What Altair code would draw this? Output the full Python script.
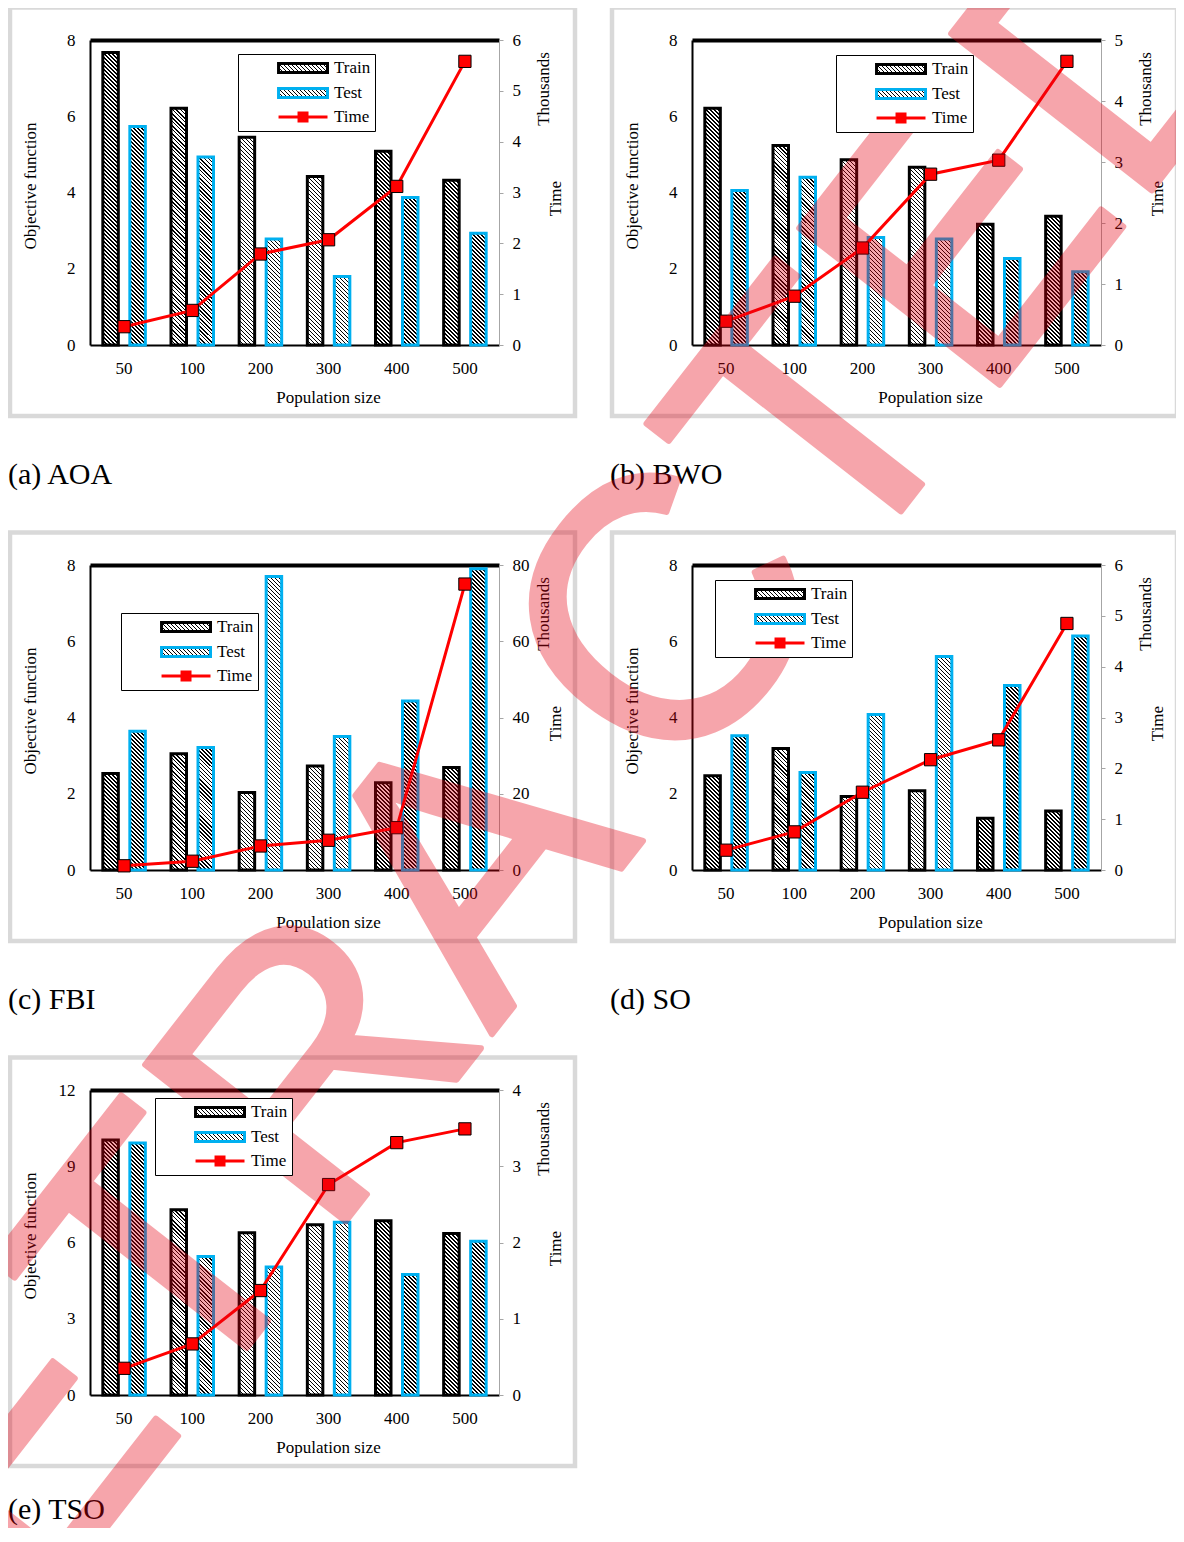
import altair as alt

# ---------------- data ----------------
POP = ["50", "100", "200", "300", "400", "500"]
SERIES = ["Train", "Test", "Time"]

AOA_TRAIN = [7.67, 6.21, 5.45, 4.42, 5.08, 4.32]
AOA_TEST = [5.73, 4.93, 2.78, 1.80, 3.87, 2.93]
AOA_TIME = [0.36, 0.68, 1.79, 2.07, 3.12, 5.58]

BWO_TRAIN = [6.21, 5.23, 4.86, 4.66, 3.17, 3.38]
BWO_TEST = [4.05, 4.40, 2.82, 2.78, 2.27, 1.92]
BWO_TIME = [0.39, 0.80, 1.59, 2.80, 3.03, 4.65]

FBI_TRAIN = [2.53, 3.05, 2.03, 2.73, 2.29, 2.69]
FBI_TEST = [3.64, 3.21, 7.70, 3.50, 4.43, 7.90]
FBI_TIME = [1.1, 2.3, 6.3, 7.8, 11.1, 75.0]

SO_TRAIN = [2.47, 3.19, 1.93, 2.08, 1.36, 1.55]
SO_TEST = [3.52, 2.56, 4.08, 5.60, 4.84, 6.14]
SO_TIME = [0.39, 0.75, 1.53, 2.17, 2.56, 4.85]

TSO_TRAIN = [10.03, 7.29, 6.38, 6.70, 6.86, 6.35]
TSO_TEST = [9.91, 5.45, 5.04, 6.80, 4.74, 6.05]
TSO_TIME = [0.35, 0.67, 1.37, 2.76, 3.31, 3.49]

CAPTIONS = ["(a) AOA", "(b) BWO", "(c) FBI", "(d) SO", "(e) TSO"]
Y_MAX = [8, 8, 8, 8, 12]
Y_TICKS = [[0, 2, 4, 6, 8]] * 4 + [[0, 3, 6, 9, 12]]
T_MAX = [6, 5, 80, 6, 4]
T_TICKS = [list(range(0, 7)), list(range(0, 6)), [0, 20, 40, 60, 80],
           list(range(0, 7)), list(range(0, 5))]

# ---------------- layout / style ----------------
OX, OY = 8, 8              # where the drawing starts on the page
W, H = 1168, 1520          # drawing size
PW, PH = 409, 305          # plot area of each panel
PANEL_POS = [(90, 40), (692, 40), (90, 565), (692, 565), (90, 1090)]
LEGEND_POS = [(238, 54), (836, 55), (121, 613), (715, 580), (155, 1098)]
CAPTION_Y = [475, 475, 1000, 1000, 1510]
SERIF = "Liberation Serif"
BLUE = "#00B0F0"
BW = 15.5

BAR_PATH = "M-4.76,-0.53H1V0.53H-4.76Z"
TIME_PATH = "M-4.76,0H1M-2.35,-0.47H-1.41V0.47H-2.35Z"


def hatch(h, w=BW, q=4.0, frac=0.4):
    h = max(h, 0.5)
    L = h + w
    k = L / (w * w + h * h)
    stops = []
    i = 0
    while i * q < L:
        a = i * q / L
        b = min((i * q + frac * q) / L, 1.0)
        stops += [{"offset": round(a, 4), "color": "#ffffff"},
                  {"offset": round(a, 4), "color": "#000000"},
                  {"offset": round(b, 4), "color": "#000000"},
                  {"offset": round(b, 4), "color": "#ffffff"}]
        i += 1
    return {"gradient": "linear", "x1": 0, "y1": 1,
            "x2": round(k * w, 5), "y2": round(1 - k * h, 5), "stops": stops}


def hatch_expr(h, w):
    g = hatch(h, w)
    stops = ",".join("{offset:%s,color:'%s'}" % (s["offset"], s["color"]) for s in g["stops"])
    return "{gradient:'linear',x1:0,y1:1,x2:%s,y2:%s,stops:[%s]}" % (g["x2"], g["y2"], stops)


LEGEND_HATCH = alt.ExprRef(expr=hatch_expr(9, 49))


def panel_layers(i, train, test, time):
    px, py = PANEL_POS[i]
    x0, yt = px - OX, py - OY
    x1, yb = x0 + PW, yt + PH
    ymax, tmax = Y_MAX[i], T_MAX[i]

    band = alt.Scale(type="band", domain=POP, range=[x0, x1], paddingInner=0, paddingOuter=0)
    pts = alt.Scale(type="point", domain=POP, range=[x0, x1], padding=0.5)
    ys = alt.Scale(domain=[0, ymax], range=[yb, yt], nice=False, zero=True)
    ts = alt.Scale(domain=[0, tmax], range=[yb, yt], nice=False, zero=True)

    lab = dict(labelFont=SERIF, labelFontSize=17, labelColor="black")
    tit = dict(titleFont=SERIF, titleFontSize=17, titleFontWeight="normal", titleColor="black",
               titleAlign="center", titleBaseline="middle")

    ax_left = alt.Axis(orient="left", offset=-x0, values=Y_TICKS[i], grid=False, ticks=False,
                       tickSize=0, labelPadding=15, domainColor="black", domainWidth=2,
                       title="Objective function", titleX=-60, titleY=yt + 145.5,
                       titleAngle=270, **lab, **tit)
    ax_bottom = alt.Axis(orient="bottom", offset=yb - H, grid=False, ticks=False, tickSize=0,
                         labelPadding=15, labelAngle=0, domainColor="black", domainWidth=2,
                         title="Population size", titleX=x0 + 238, titleY=52, **lab, **tit)
    ax_top = alt.Axis(orient="top", offset=-yt, grid=False, ticks=False, labels=False,
                      domainColor="black", domainWidth=4, title=None)
    ax_right = alt.Axis(orient="right", offset=x1 - W, values=T_TICKS[i], grid=False,
                        ticks=True, tickSize=4, tickColor="#a6a6a6", tickWidth=1,
                        labelPadding=9, domainColor="#a6a6a6", domainWidth=1,
                        title="Time", titleX=56, titleY=yt + 158, titleAngle=270, **lab, **tit)
    ax_thou = alt.Axis(orient="right", offset=x1 - W, grid=False, ticks=False, labels=False,
                       domain=False, title="Thousands", titleX=44, titleY=yt + 48.5,
                       titleAngle=270, **tit)

    layers = []
    # light grey frame around the panel
    layers.append(alt.Chart().mark_rect(fillOpacity=0, stroke="#d9d9d9", strokeWidth=4.5).encode(
        x=alt.value(x0 - 80), x2=alt.value(x0 + 485),
        y=alt.value(yt - 32.5), y2=alt.value(yt + 376)))

    tr = [{"pop": p, "value": v, "grad": hatch(v / ymax * PH)} for p, v in zip(POP, train)]
    te = [{"pop": p, "value": v, "grad": hatch(v / ymax * PH)} for p, v in zip(POP, test)]
    tm = [{"pop": p, "time": v} for p, v in zip(POP, time)]

    layers.append(alt.Chart(alt.Data(values=tr)).mark_bar(
        width=BW, xOffset=-13.5, stroke="black", strokeWidth=3).encode(
        x=alt.X("pop:N", scale=band, axis=ax_bottom),
        y=alt.Y("value:Q", scale=ys, axis=ax_left),
        fill=alt.Fill("grad:N", scale=None, legend=None)))
    layers.append(alt.Chart(alt.Data(values=te)).mark_bar(
        width=BW, xOffset=13.5, stroke=BLUE, strokeWidth=3).encode(
        x=alt.X("pop:N", scale=band, axis=ax_top),
        y=alt.Y("value:Q", scale=ys, axis=None),
        fill=alt.Fill("grad:N", scale=None, legend=None)))
    layers.append(alt.Chart(alt.Data(values=tm)).mark_line(color="#ff0000", strokeWidth=3).encode(
        x=alt.X("pop:N", scale=pts, axis=None),
        y=alt.Y("time:Q", scale=ts, axis=ax_right)))
    layers.append(alt.Chart(alt.Data(values=tm)).mark_point(
        shape="square", size=150, filled=True, fill="#ff0000", stroke="black",
        strokeWidth=1, opacity=1).encode(
        x=alt.X("pop:N", scale=pts, axis=None),
        y=alt.Y("time:Q", scale=ts, axis=ax_thou)))

    lx, ly = LEGEND_POS[i]
    leg = alt.Legend(orient="none", legendX=lx - OX, legendY=ly - OY, title=None,
                     strokeColor="black", fillColor="white", padding=4,
                     labelFont=SERIF, labelFontSize=17, labelColor="black",
                     labelExpr="pad(datum.label, 14, '\u00a0')",
                     symbolSize=289, symbolStrokeWidth=3, symbolOffset=67,
                     labelOffset=5, rowPadding=3)
    layers.append(alt.Chart(alt.Data(values=[{"series": s} for s in SERIES]))
                  .transform_filter("false")
                  .mark_point(filled=True, strokeWidth=3, opacity=1).encode(
        stroke=alt.Stroke("series:N", scale=alt.Scale(domain=SERIES, range=["black", BLUE, "#ff0000"]), legend=leg),
        fill=alt.Fill("series:N", scale=alt.Scale(domain=SERIES, range=[LEGEND_HATCH, LEGEND_HATCH, "#ff0000"]), legend=leg),
        shape=alt.Shape("series:N", scale=alt.Scale(domain=SERIES, range=[BAR_PATH, BAR_PATH, TIME_PATH]), legend=leg)))

    # caption under the panel
    layers.append(alt.Chart().mark_text(text=CAPTIONS[i], align="left", baseline="middle",
                                        font=SERIF, fontSize=30, color="black").encode(
        x=alt.value(x0 - 82), y=alt.value(CAPTION_Y[i] - OY)))
    return layers


all_layers = []
for idx, (a, b, c) in enumerate([(AOA_TRAIN, AOA_TEST, AOA_TIME), (BWO_TRAIN, BWO_TEST, BWO_TIME),
                                  (FBI_TRAIN, FBI_TEST, FBI_TIME), (SO_TRAIN, SO_TEST, SO_TIME),
                                  (TSO_TRAIN, TSO_TEST, TSO_TIME)]):
    all_layers += panel_layers(idx, a, b, c)

# retraction watermark (drawn in two runs so the letter spacing follows the original)
WM = dict(font="Liberation Sans", fontSize=370, angle=308, color="#e60012", stroke="#e60012",
          strokeWidth=6, strokeJoin="round", opacity=0.35, baseline="middle", clip=True)
all_layers.append(alt.Chart().mark_text(text="RETRA", align="right", **WM).encode(
    x=alt.value(556 - OX), y=alt.value(772 - OY)))
all_layers.append(alt.Chart().mark_text(text="CTED", align="left", **WM).encode(
    x=alt.value(590 - OX), y=alt.value(729 - OY)))

chart = (alt.layer(*all_layers)
         .resolve_scale(x="independent", y="independent", fill="independent",
                        stroke="independent", shape="independent")
         .resolve_axis(x="independent", y="independent")
         .resolve_legend(fill="independent", stroke="independent", shape="independent")
         .properties(width=W, height=H, padding=0,
                     autosize=alt.AutoSizeParams(type="none"))
         .configure_view(strokeOpacity=0))

chart.save("out.html", embed_options={"renderer": "svg", "actions": False})
